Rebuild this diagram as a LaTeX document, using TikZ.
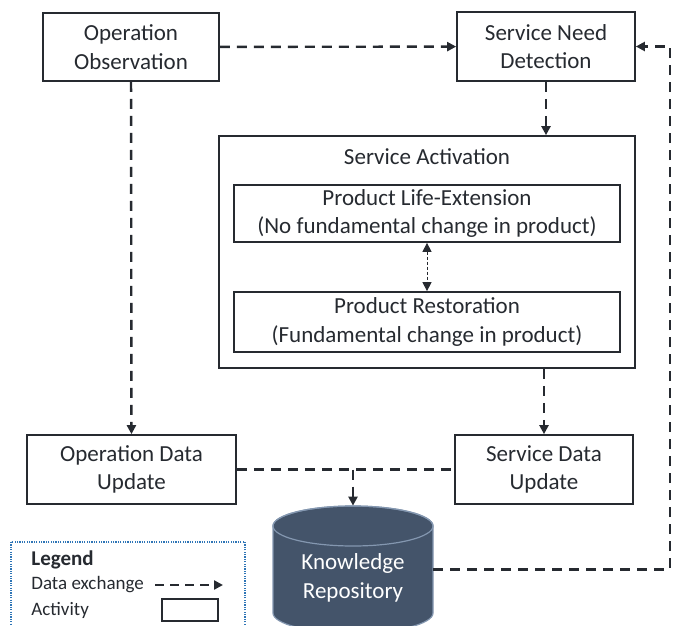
\documentclass[tikz,border=0pt]{standalone}
\usepackage{fontspec}
\setmainfont{Carlito}
\usetikzlibrary{arrows.meta}
\definecolor{inkcol}{HTML}{262A30}
\definecolor{repofill}{HTML}{44546A}
\definecolor{repoline}{HTML}{8497B0}
\definecolor{legendcol}{HTML}{2E75B6}
\tikzset{every picture/.style={line width=0.75pt}}
\tikzset{
  actbox/.style={draw=inkcol,line width=1.7pt,inner sep=0pt,align=center,
    font=\fontsize{23}{28.5}\selectfont,text=inkcol},
  dataflow/.style={->,draw=inkcol,line width=2.4pt,dash pattern=on 10pt off 7pt},
  swapflow/.style={<->,draw=inkcol,line width=0.9pt,dash pattern=on 3pt off 2pt},
  legendtxt/.style={anchor=west,inner sep=0pt,font=\fontsize{19}{25}\selectfont,text=inkcol}
}
\begin{document}
\begin{tikzpicture}[>={Triangle[length=9pt,width=9pt]},x=1pt,y=-1pt]
	\useasboundingbox (0,0) rectangle (678,626);
	\clip (0,0) rectangle (678,626);
	%Hop 1: quan sat van hanh
	\node[actbox,minimum width=176pt,minimum height=68pt] (obs) at (131,47) {Operation\\Observation};
	%Hop 2: phat hien nhu cau
	\node[actbox,minimum width=178pt,minimum height=69pt] (need) at (546,46.5) {Service Need\\Detection};
	%Hop 3: kich hoat dich vu
	\node[actbox,minimum width=416pt,minimum height=232pt] (activ) at (427,252) {};
	\node[inner sep=0pt,font=\fontsize{23}{28.5}\selectfont,text=inkcol] (activtitle) at (427,157) {Service Activation};
	\node[actbox,minimum width=386pt,minimum height=57pt] (extend) at (427,213.5) {Product Life-Extension\\(No fundamental change in product)};
	\node[actbox,minimum width=386pt,minimum height=60pt] (restore) at (427,322) {Product Restoration\\(Fundamental change in product)};
	%Hop 4,5: cap nhat du lieu
	\node[actbox,minimum width=209pt,minimum height=69pt] (opupd) at (131.5,469.5) {Operation Data\\Update};
	\node[actbox,minimum width=178pt,minimum height=69pt] (svupd) at (544,469.5) {Service Data\\Update};
	%Kho tri thuc
	\node[minimum width=160pt,minimum height=127pt,inner sep=0pt] (repo) at (353,569.5) {};
	\filldraw[fill=repofill,draw=repoline,line width=1.2pt] (273,526) -- (273,613)
	  arc[start angle=180,end angle=0,x radius=80,y radius=20] -- (433,526)
	  arc[start angle=0,end angle=-180,x radius=80,y radius=20] -- cycle;
	\draw[repoline,line width=1.2pt] (353,526) ellipse[x radius=80,y radius=20];
	\node[inner sep=0pt,align=center,text=white,font=\fontsize{23}{28.5}\selectfont] (repotext) at (353,578) {Knowledge\\Repository};
	%Mui ten
	\draw[dataflow] (obs) -- (need);
	\draw[dataflow] (need.south) -- (need.south |- activ.north);
	\draw[dataflow] (obs) -- (opupd);
	\draw[dataflow] (svupd.north |- activ.south) -- (svupd.north);
	\draw[swapflow] (extend) -- (restore);
	\draw[dataflow,-] (opupd) -- (svupd);
	\coordinate (join) at (repo.north |- opupd.east);
	\draw[dataflow] (join) -- (repo.north);
	\coordinate (rightcol) at (670,0);
	\draw[dataflow] (repo.east) -- (repo.east -| rightcol) |- (need.east);
	%Chu thich
	\draw[legendcol,line width=1.2pt,dash pattern=on 1.2pt off 1.2pt] (11,542) rectangle (245,650);
	\node[legendtxt,font=\fontsize{21}{25}\selectfont\bfseries] (legtitle) at (31,560) {Legend};
	\node[legendtxt] (legdata) at (31,585) {Data exchange};
	\node[legendtxt] (legact) at (31,610) {Activity};
	\coordinate (legfrom) at (155,585);
	\coordinate (legto) at (223,585);
	\draw[dataflow,dash pattern=on 9pt off 6pt] (legfrom) -- (legto);
	\node[draw=inkcol,line width=1.7pt,minimum width=56pt,minimum height=22pt,inner sep=0pt] (legbox) at (190,610) {};
\end{tikzpicture}
\end{document}
